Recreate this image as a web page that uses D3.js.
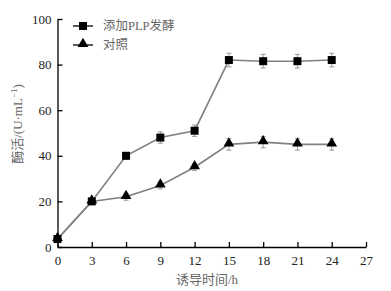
<!DOCTYPE html>
<html><head><meta charset="utf-8">
<script src="https://cdn.jsdelivr.net/npm/d3@7"></script>
<style>
body{margin:0;background:#fff;}
svg{display:block;}
</style></head>
<body>
<script>
const times = [0, 3, 6, 9, 12, 15, 18, 21, 24];
const plpValues = [3.5, 20, 40, 48, 51, 82, 81.5, 81.5, 82];
const plpErrors = [1.2, 1.2, 1.5, 2.5, 2.5, 3, 3, 3, 3];
const ctrlValues = [3.5, 20, 22, 27, 35, 45, 46, 45, 45];
const ctrlErrors = [1.2, 1.2, 1.5, 1.5, 1.5, 2.5, 2.5, 2.5, 2.5];
const xTicks = [0, 3, 6, 9, 12, 15, 18, 21, 24, 27];
const yTicks = [0, 20, 40, 60, 80, 100];
const seriesNames = ["添加PLP发酵", "对照"];
const xTitle = "诱导时间/h";

const W = 391, H = 291;
const svg = d3.select("body").append("svg").attr("width", W).attr("height", H);
const x = d3.scaleLinear().domain([0, 27]).range([57.5, 366]);
const y = d3.scaleLinear().domain([0, 100]).range([247, 19]);
const numFont = "'Liberation Serif','Times New Roman',serif";
const cjkFont = "'Liberation Serif','Noto Sans CJK SC',serif";

// axes
const xAxis = svg.append("g").attr("transform", `translate(0,${y(0)})`)
  .call(d3.axisBottom(x).tickValues(xTicks).tickSizeInner(-5).tickSizeOuter(0).tickPadding(9));
const yAxis = svg.append("g").attr("transform", `translate(${x(0)},0)`)
  .call(d3.axisLeft(y).tickValues(yTicks).tickSizeInner(-5).tickSizeOuter(0).tickPadding(6));
[xAxis, yAxis].forEach(g => {
  g.selectAll("path,line").attr("stroke", "#000").attr("stroke-width", 1.3);
  g.selectAll("text").attr("font-family", numFont).attr("font-size", 13).attr("fill", "#222");
});

function drawSeries(vals, errs, shape) {
  const data = times.map((t, i) => ({t, v: vals[i], e: errs[i]}));
  const g = svg.append("g");
  // error bars
  data.forEach(d => {
    if (d.t === 0) return;
    g.append("line").attr("x1", x(d.t)).attr("x2", x(d.t))
      .attr("y1", y(d.v + d.e)).attr("y2", y(d.v - d.e)).attr("stroke", "#999").attr("stroke-width", 1);
    [d.v + d.e, d.v - d.e].forEach(v => g.append("line")
      .attr("x1", x(d.t) - 2.5).attr("x2", x(d.t) + 2.5).attr("y1", y(v)).attr("y2", y(v))
      .attr("stroke", "#999").attr("stroke-width", 1));
  });
  g.append("path").datum(data)
    .attr("d", d3.line().x(d => x(d.t)).y(d => y(d.v)))
    .attr("fill", "none").attr("stroke", "#808080").attr("stroke-width", 1.6);
  const sym = d3.symbol().type(shape === "square" ? d3.symbolSquare : d3.symbolTriangle).size(shape === "square" ? 64 : 50);
  g.selectAll(".m").data(data).enter().append("path")
    .attr("d", sym).attr("transform", d => `translate(${x(d.t)},${y(d.v) + (shape === "square" ? 0 : -1)})`)
    .attr("fill", "#000");
}
drawSeries(ctrlValues, ctrlErrors, "triangle");
drawSeries(plpValues, plpErrors, "square");

// legend
const legend = svg.append("g");
[["square", 26], ["triangle", 45]].forEach(([shape, ly], i) => {
  legend.append("line").attr("x1", 73).attr("x2", 93).attr("y1", ly).attr("y2", ly)
    .attr("stroke", "#000").attr("stroke-width", 1.3);
  legend.append("path")
    .attr("d", d3.symbol().type(shape === "square" ? d3.symbolSquare : d3.symbolTriangle).size(shape === "square" ? 64 : 50))
    .attr("transform", `translate(83,${ly + (shape === "square" ? 0 : -1)})`).attr("fill", "#000");
  legend.append("text").attr("x", 103).attr("y", ly).attr("dy", "0.35em")
    .attr("font-family", cjkFont).attr("font-size", 12.5).attr("fill", "#666")
    .text(seriesNames[i]);
});

// axis titles
svg.append("text").attr("x", 207).attr("y", 284)
  .attr("text-anchor", "middle").attr("font-family", cjkFont).attr("font-size", 13).attr("fill", "#666")
  .text(xTitle);
const yt = svg.append("text").attr("transform", "translate(22,124) rotate(-90)")
  .attr("text-anchor", "middle").attr("font-family", cjkFont).attr("font-size", 13).attr("fill", "#666");
yt.append("tspan").text("酶活/(U·mL");
yt.append("tspan").attr("dy", -5).attr("font-size", 9).text("−1");
yt.append("tspan").attr("dy", 5).text(")");
</script>
</body></html>
